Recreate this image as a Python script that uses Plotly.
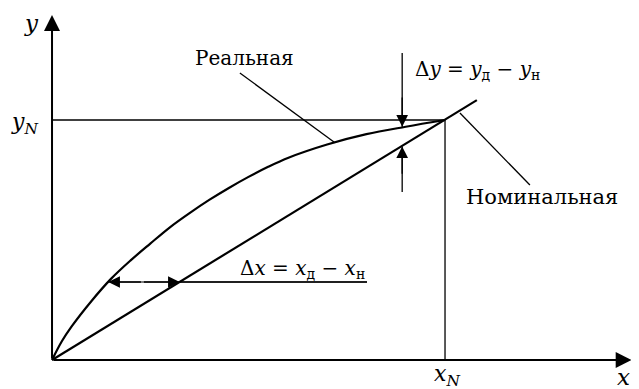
import plotly.graph_objects as go

# normalised units: x_N = 1, y_N = 1
x_n = 1.0
y_n = 1.0

real_x = [0.0, 0.025, 0.05, 0.1, 0.15, 0.2, 0.25, 0.3, 0.35, 0.4, 0.45, 0.5,
          0.55, 0.6, 0.7, 0.8, 0.9, 1.0]
real_y = [0.0, 0.078, 0.140, 0.245, 0.338, 0.415, 0.485, 0.553, 0.612, 0.667,
          0.717, 0.763, 0.805, 0.842, 0.898, 0.941, 0.972, 1.0]

# nominal characteristic (straight line through origin and (x_N, y_N), extended)
nominal_x = [0.0, 1.081]
nominal_y = [0.0, 1.083]

# only DejaVu Serif resolves to a serif face in the renderer
FONT = "DejaVu Serif"

fig = go.Figure()

# y_N horizontal and x_N vertical guide lines
fig.add_trace(go.Scatter(x=[0, x_n], y=[y_n, y_n], mode="lines",
                         line=dict(color="black", width=1.3), hoverinfo="skip"))
fig.add_trace(go.Scatter(x=[x_n, x_n], y=[0, y_n], mode="lines",
                         line=dict(color="black", width=1.3), hoverinfo="skip"))

# curves
fig.add_trace(go.Scatter(x=nominal_x, y=nominal_y, mode="lines",
                         line=dict(color="black", width=2.2), hoverinfo="skip"))
fig.add_trace(go.Scatter(x=real_x, y=real_y, mode="lines",
                         line=dict(color="black", width=2.2, shape="spline"),
                         hoverinfo="skip"))


def arrow(x0, y0, x1, y1, width=2, size=1.4, head=2):
    fig.add_annotation(x=x1, y=y1, ax=x0, ay=y0, xref="x", yref="y",
                       axref="x", ayref="y", text="", showarrow=True,
                       arrowhead=head, arrowsize=size, arrowwidth=width,
                       arrowcolor="black", standoff=0, startstandoff=0)


def segment(x0, y0, x1, y1, width=1.3):
    fig.add_shape(type="line", x0=x0, y0=y0, x1=x1, y1=y1, xref="x", yref="y",
                  line=dict(color="black", width=width))


def label(x, y, text, size=20, xanchor="center"):
    fig.add_annotation(x=x, y=y, xref="x", yref="y", text=text, showarrow=False,
                       xanchor=xanchor, yanchor="middle",
                       font=dict(family=FONT, size=size, color="black"))


# axes with arrows
arrow(0, 0, 1.475, 0, width=2, size=1.6)
arrow(0, 0, 0, 1.4375, width=2, size=1.6)

# Δy markers
segment(0.891, 1.279, 0.891, 0.97)
arrow(0.891, 1.1, 0.891, 0.972, width=1.3, size=1.8)
segment(0.891, 0.70, 0.891, 0.89)
arrow(0.891, 0.77, 0.891, 0.89, width=1.3, size=1.8)

# Δx markers
segment(0.143, 0.325, 0.8015, 0.325, width=1.0)
arrow(0.23, 0.325, 0.143, 0.325, width=1.3, size=1.8)
arrow(0.23, 0.325, 0.325, 0.325, width=1.3, size=1.8)
segment(0.325, 0.325, 0.8015, 0.325)

# leader lines
segment(0.478, 1.196, 0.72, 0.905)
segment(1.038, 1.029, 1.216, 0.729)

# text
label(-0.053, 1.405, "<i>y</i>", size=23)
label(-0.07, 0.985, "<i>y</i><sub><i>N</i></sub>", size=22)
label(1.005, -0.065, "<i>x</i><sub><i>N</i></sub>", size=22)
label(1.453, -0.072, "<i>x</i>", size=23)
label(0.49, 1.26, "Реальная", size=20)
label(1.247, 0.679, "Номинальная", size=21)
label(0.918, 1.208, "Δ<i>y</i> = <i>y</i><sub>д</sub> − <i>y</i><sub>н</sub>",
      size=20, xanchor="left")
label(0.474, 0.38, "Δ<i>x</i> = <i>x</i><sub>д</sub> − <i>x</i><sub>н</sub>",
      size=20, xanchor="left")

# the page body adds an 8 px margin, so the figure is 8 px smaller and the
# ranges start 8 px further in
fig.update_layout(
    width=631, height=381,
    margin=dict(l=0, r=0, t=0, b=0),
    paper_bgcolor="white", plot_bgcolor="white",
    showlegend=False,
    font=dict(family=FONT),
    xaxis=dict(range=[-0.112, 1.4936], visible=False, fixedrange=True),
    yaxis=dict(range=[-0.1208, 1.4667], visible=False, fixedrange=True),
)

fig.write_html("out.html")
